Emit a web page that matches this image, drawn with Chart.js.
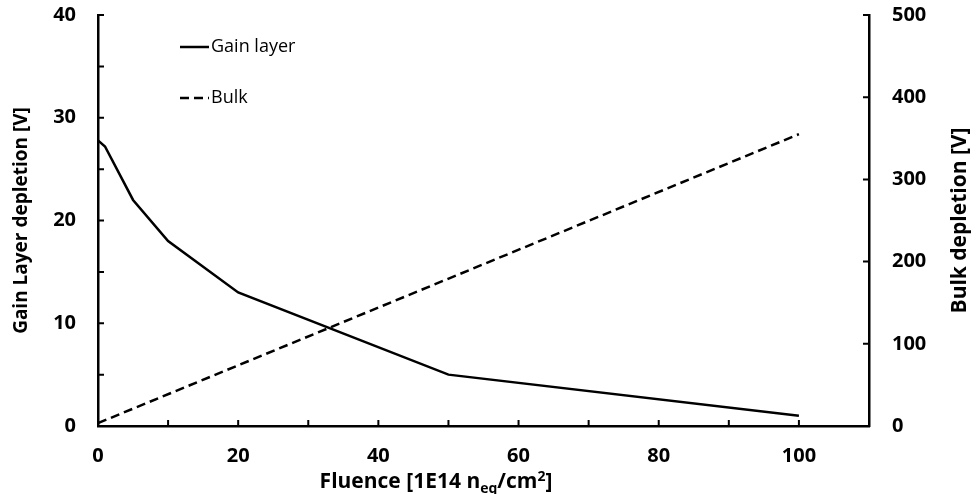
<!DOCTYPE html>
<html>
<head>
<meta charset="utf-8">
<script src="https://cdn.jsdelivr.net/npm/chart.js@4.4.1/dist/chart.umd.min.js"></script>
<style>
  html, body { margin: 0; padding: 0; background: #fff; }
  #wrap { width: 976px; height: 494px; }
</style>
</head>
<body>
<div id="wrap"><canvas id="grafico" width="976" height="494"></canvas></div>
<script>
// Gain layer depletion voltage vs fluence
const fluenceGain = [0, 1, 5, 10, 20, 50, 100];
const gainLayer = [27.8, 27.2, 22, 18, 13, 5, 1];

// Bulk depletion voltage vs fluence (right axis)
const fluenceBulk = [0, 100];
const bulk = [3.5, 355];

const xTicks = [0, 20, 40, 60, 80, 100];

const FONT = "'Open Sans', Lato, sans-serif";

// inward tick marks, axis titles and the legend inside the plot
const decoraciones = {
  id: "decoraciones",
  afterDraw(chart) {
    const ctx = chart.ctx;
    const area = chart.chartArea;
    const x = chart.scales.x, yL = chart.scales.y, yR = chart.scales.y2;
    const len = 6;
    const midY = (area.top + area.bottom) / 2;
    ctx.save();
    ctx.strokeStyle = "#000";
    ctx.lineWidth = 2;
    ctx.beginPath();
    for (let v = 10; v <= 100; v += 10) {
      const px = x.getPixelForValue(v);
      ctx.moveTo(px, area.bottom);
      ctx.lineTo(px, area.bottom - len);
    }
    for (let v = 5; v <= 40; v += 5) {
      const py = yL.getPixelForValue(v);
      ctx.moveTo(area.left, py);
      ctx.lineTo(area.left + len, py);
    }
    for (let v = 100; v <= 500; v += 100) {
      const py = yR.getPixelForValue(v);
      ctx.moveTo(area.right, py);
      ctx.lineTo(area.right - len, py);
    }
    ctx.stroke();

    // axis titles
    ctx.fillStyle = "#000";
    ctx.textBaseline = "middle";
    ctx.textAlign = "center";
    ctx.save();
    ctx.font = "bold 19px " + FONT;
    ctx.translate(area.left - 76, midY);
    ctx.rotate(-Math.PI / 2);
    ctx.fillText("Gain Layer depletion [V]", 0, 0);
    ctx.restore();
    ctx.save();
    ctx.font = "bold 21px " + FONT;
    ctx.translate(area.right + 91, midY);
    ctx.rotate(-Math.PI / 2);
    ctx.fillText("Bulk depletion [V]", 0, 0);
    ctx.restore();

    // x title with subscript and superscript
    const partes = [
      { t: "Fluence [1E14 n", size: 21, dy: 0 },
      { t: "eq", size: 14, dy: 5 },
      { t: "/cm", size: 21, dy: 0 },
      { t: "2", size: 14, dy: -7 },
      { t: "]", size: 21, dy: 0 }
    ];
    let total = 0;
    partes.forEach(p => {
      ctx.font = "bold " + p.size + "px " + FONT;
      p.w = ctx.measureText(p.t).width;
      total += p.w;
    });
    let cx = 436 - total / 2;
    const by = area.bottom + 62;
    ctx.textAlign = "left";
    ctx.textBaseline = "alphabetic";
    partes.forEach(p => {
      ctx.font = "bold " + p.size + "px " + FONT;
      ctx.fillText(p.t, cx, by + p.dy);
      cx += p.w;
    });

    // legend
    ctx.font = "18px " + FONT;
    ctx.textBaseline = "middle";
    chart.data.datasets.forEach((ds, i) => {
      const ly = 47 + i * 51;
      ctx.beginPath();
      ctx.lineWidth = ds.borderWidth;
      ctx.setLineDash(ds.borderDash || []);
      ctx.moveTo(180, ly);
      ctx.lineTo(209, ly);
      ctx.stroke();
      ctx.setLineDash([]);
      ctx.fillText(ds.label, 211, ly);
    });
    ctx.restore();
  }
};

const tickFont = { family: FONT, size: 20, weight: "bold" };

new Chart(document.getElementById("grafico").getContext("2d"), {
  type: "line",
  data: {
    datasets: [
      {
        label: "Gain layer",
        data: fluenceGain.map((f, i) => ({ x: f, y: gainLayer[i] })),
        borderColor: "#000",
        borderWidth: 2.5,
        pointRadius: 0,
        yAxisID: "y"
      },
      {
        label: "Bulk",
        data: fluenceBulk.map((f, i) => ({ x: f, y: bulk[i] })),
        borderColor: "#000",
        borderWidth: 2.5,
        borderDash: [9, 5],
        pointRadius: 0,
        yAxisID: "y2"
      }
    ]
  },
  options: {
    responsive: false,
    animation: false,
    layout: { padding: { top: 15 } },
    plugins: { legend: { display: false }, tooltip: { enabled: false } },
    scales: {
      x: {
        type: "linear",
        min: 0,
        max: 110,
        afterFit: s => { s.height = 68; },
        afterBuildTicks: s => { s.ticks = xTicks.map(v => ({ value: v })); },
        grid: { display: false, tickLength: 18 },
        border: { color: "#000", width: 2.5 },
        ticks: { color: "#000", font: tickFont, padding: 0, maxRotation: 0 }
      },
      y: {
        position: "left",
        min: 0,
        max: 40,
        afterFit: s => { s.width = 98; },
        grid: { display: false, tickLength: 22 },
        border: { color: "#000", width: 2.5 },
        ticks: { stepSize: 10, color: "#000", font: tickFont, padding: 0 }
      },
      y2: {
        position: "right",
        min: 0,
        max: 500,
        afterFit: s => { s.width = 107; },
        grid: { display: false, tickLength: 23 },
        border: { color: "#000", width: 2.5 },
        ticks: { stepSize: 100, color: "#000", font: tickFont, padding: 0 }
      }
    }
  },
  plugins: [decoraciones]
});
</script>
</body>
</html>
